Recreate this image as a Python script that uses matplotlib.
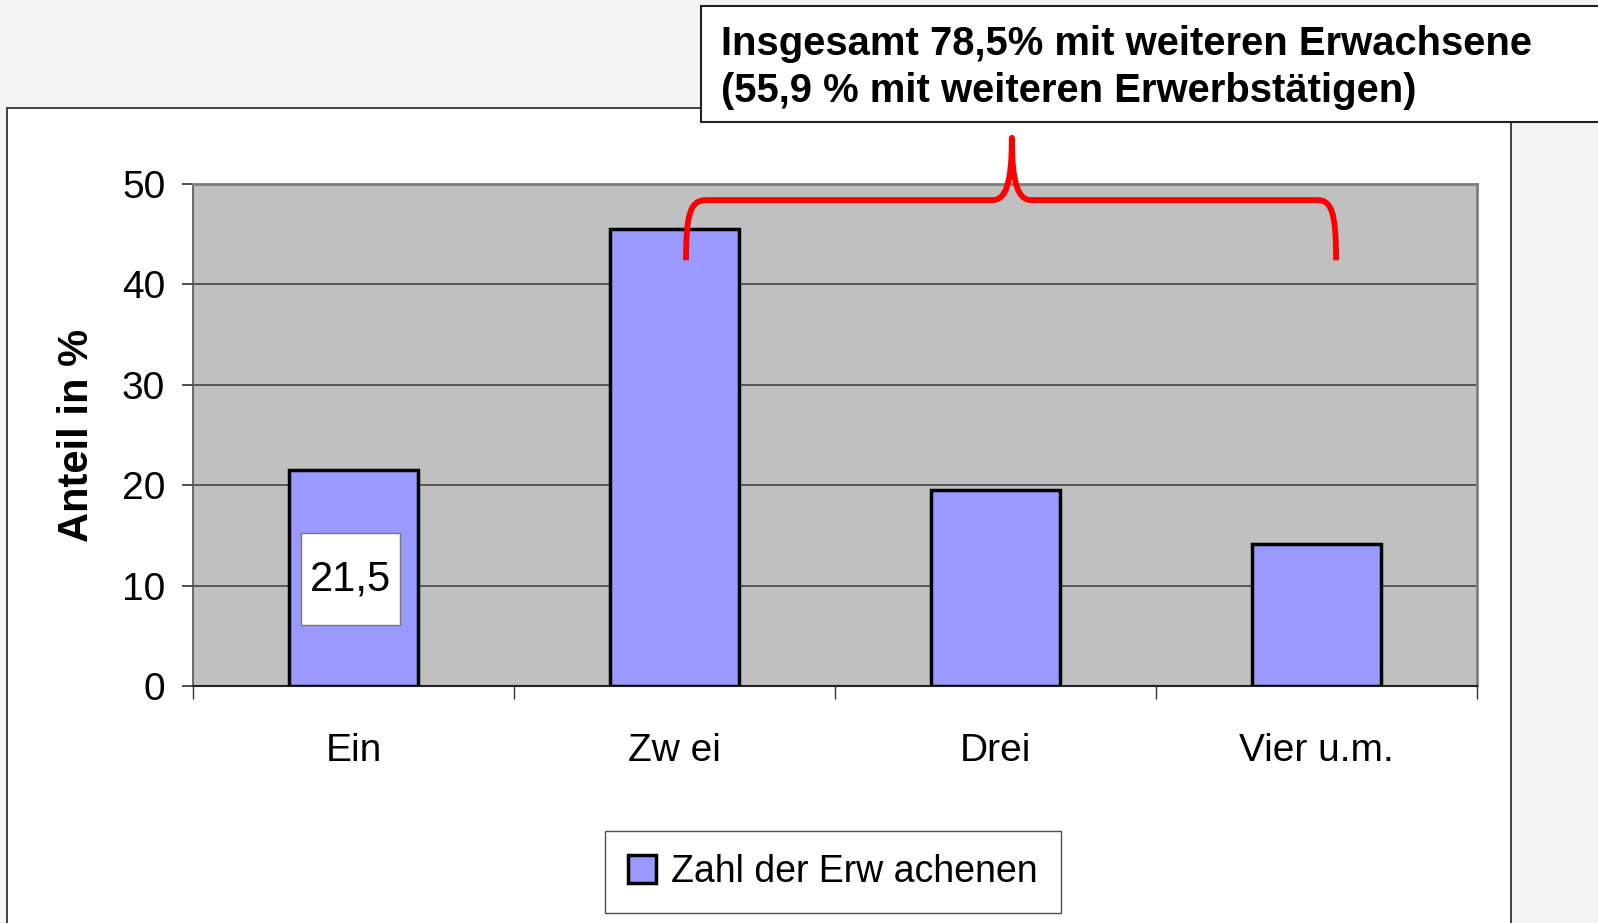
import matplotlib
matplotlib.use("Agg")
import matplotlib.pyplot as plt
from matplotlib import font_manager
from matplotlib.patches import Rectangle, PathPatch, Patch
from matplotlib.path import Path

# Daten
categories = ["Ein", "Zw ei", "Drei", "Vier u.m."]
values = [21.5, 45.5, 19.5, 14.1]
label_text = "21,5"
label_y = 10.6
legend_label = "Zahl der Erw achenen"
ylabel = "Anteil in %"
yticks = [0, 10, 20, 30, 40, 50]
note_lines = ["Insgesamt 78,5% mit weiteren Erwachsene",
              "(55,9 % mit weiteren Erwerbstätigen)"]

names = {f.name for f in font_manager.fontManager.ttflist}
narrow = "Liberation Sans Narrow" if "Liberation Sans Narrow" in names else "Liberation Sans"
plt.rcParams["font.family"] = [narrow, "DejaVu Sans"]
BOLD = ["Liberation Sans", "DejaVu Sans"]
FS = 29 if narrow.endswith("Narrow") else 27

W, H = 1598, 923
fig = plt.figure(figsize=(W / 100, H / 100), dpi=100)
fig.patch.set_facecolor("#f4f4f4")

# weisses Diagrammfeld
fig.patches.append(Rectangle((7 / W, -0.02), (1511 - 7) / W, 0.02 + 1 - 108 / H,
                             transform=fig.transFigure, facecolor="white",
                             edgecolor="#333333", lw=1.3, zorder=-2))

ax = fig.add_axes([193 / W, 1 - 686 / H, (1477 - 193) / W, (686 - 184) / H])
ax.set_facecolor("#c0c0c0")
x = list(range(len(categories)))
ax.bar(x, values, width=0.4, color="#9999ff", edgecolor="black", lw=2.5, zorder=3)
ax.set_xlim(-0.5, len(categories) - 0.5)
ax.set_ylim(0, 50)
ax.set_axisbelow(True)
ax.yaxis.grid(True, color="#3a3a3a", lw=1.1)

ax.set_yticks(yticks)
ax.tick_params(axis="y", labelsize=FS + 1, length=8, width=1.2, color="#333333", pad=12)
ax.set_xticks([i - 0.5 for i in range(len(categories) + 1)])
ax.set_xticklabels([])
ax.set_xticks(x, minor=True)
ax.set_xticklabels(categories, minor=True)
ax.tick_params(axis="x", which="major", length=9, width=1, color="#333333")
ax.tick_params(axis="x", which="minor", length=0, labelsize=FS + 1, pad=34)

for s in ["top", "right"]:
    ax.spines[s].set_color("#808080")
    ax.spines[s].set_linewidth(2)
ax.spines["left"].set_color("#555555")
ax.spines["left"].set_linewidth(1.2)
ax.spines["bottom"].set_color("#222222")
ax.spines["bottom"].set_linewidth(1.5)

ax.set_ylabel(ylabel, fontsize=30, fontweight="bold", family=BOLD)
ax.yaxis.set_label_coords(-0.075, 0.5)

# Datenbeschriftung mit weissem Kasten
ax.add_patch(Rectangle((x[0] - 0.165, 6.1), 0.31, 9.1, facecolor="white",
                       edgecolor="#777777", lw=1, zorder=4))
ax.text(x[0] - 0.01, label_y, label_text, ha="center", va="center",
        fontsize=FS + 3, zorder=5)

# geschweifte Klammer ueber Zwei..Vier
xa, xb = x[1] + 0.036, x[3] + 0.061
xm = (x[1] + x[3]) / 2 + 0.051
y0, y1, yp = 42.4, 48.4, 54.6
verts = [(xa, y0), (xa, 47.3), (xa + 0.015, y1), (xa + 0.065, y1),
         (xm - 0.06, y1),
         (xm - 0.02, y1), (xm, 50.0), (xm, yp),
         (xm, 50.0), (xm + 0.02, y1), (xm + 0.06, y1),
         (xb - 0.06, y1),
         (xb - 0.015, y1), (xb, 47.3), (xb, y0)]
codes = [Path.MOVETO, Path.CURVE4, Path.CURVE4, Path.CURVE4, Path.LINETO,
         Path.CURVE4, Path.CURVE4, Path.CURVE4, Path.CURVE4, Path.CURVE4, Path.CURVE4,
         Path.LINETO, Path.CURVE4, Path.CURVE4, Path.CURVE4]
ax.add_patch(PathPatch(Path(verts, codes), facecolor="none", edgecolor="#ff0000",
                       lw=4.2, capstyle="butt", joinstyle="round", clip_on=False, zorder=6))

# Textkasten oben rechts
fig.patches.append(Rectangle((701 / W, 1 - 122 / H), 0.6, (122 - 6) / H,
                             transform=fig.transFigure, facecolor="white",
                             edgecolor="#222222", lw=1.5, zorder=5))
fig.text(721 / W, 1 - 55 / H, note_lines[0], fontsize=28.8, fontweight="bold",
         family=BOLD, va="baseline", zorder=6)
fig.text(721 / W, 1 - 102 / H, note_lines[1], fontsize=28.8, fontweight="bold",
         family=BOLD, va="baseline", zorder=6)

# Legende
handle = Patch(facecolor="#9999ff", edgecolor="black", lw=2.5)
leg = fig.legend([handle], [legend_label], loc="center",
                 bbox_to_anchor=(833 / W, 1 - 872 / H), fontsize=FS, frameon=True,
                 fancybox=False, handlelength=0.75, handleheight=0.75,
                 handletextpad=0.4, borderpad=0.62)
leg.get_frame().set_edgecolor("#222222")
leg.get_frame().set_linewidth(1)

fig.savefig("out.png", dpi=100, facecolor=fig.get_facecolor())
